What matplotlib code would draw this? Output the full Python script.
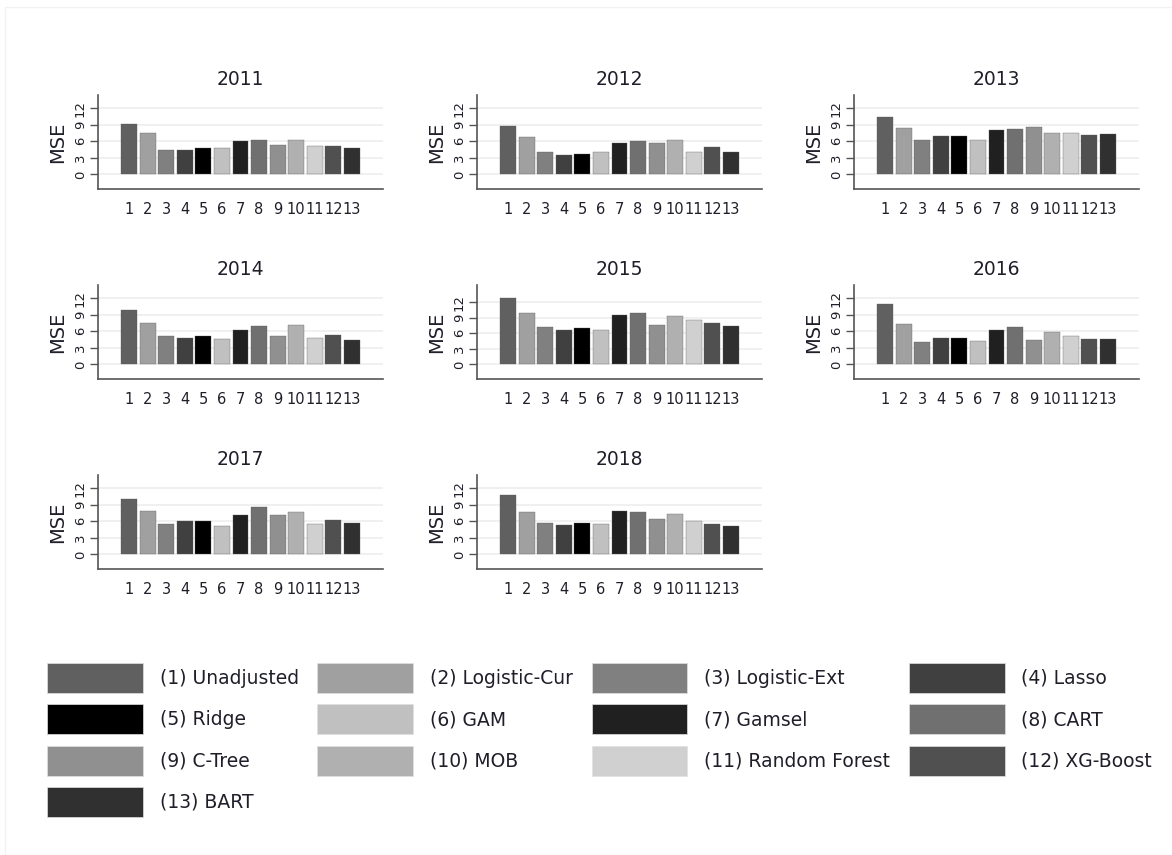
import numpy as np
import matplotlib.pyplot as plt
from matplotlib.patches import Patch

# MSE per method, one list per year (methods 1..13)
years = ["2011", "2012", "2013", "2014", "2015", "2016", "2017", "2018"]
mse_2011 = [9.1, 7.45, 4.5, 4.4, 4.8, 4.7, 6.0, 6.3, 5.4, 6.2, 5.1, 5.1, 4.7]
mse_2012 = [8.85, 6.85, 4.05, 3.5, 3.75, 4.0, 5.6, 6.0, 5.7, 6.25, 4.1, 5.0, 4.1]
mse_2013 = [10.4, 8.35, 6.25, 6.9, 6.9, 6.2, 8.1, 8.3, 8.55, 7.5, 7.5, 7.2, 7.3]
mse_2014 = [9.95, 7.5, 5.1, 4.8, 5.1, 4.6, 6.3, 6.9, 5.2, 7.2, 4.75, 5.3, 4.5]
mse_2015 = [12.75, 9.9, 7.2, 6.7, 7.0, 6.7, 9.5, 9.9, 7.65, 9.25, 8.55, 8.05, 7.4]
mse_2016 = [10.95, 7.25, 4.0, 4.85, 4.85, 4.2, 6.3, 6.7, 4.4, 5.8, 5.1, 4.55, 4.55]
mse_2017 = [10.05, 7.9, 5.5, 6.1, 6.0, 5.1, 7.05, 8.55, 7.05, 7.65, 5.5, 6.15, 5.7]
mse_2018 = [10.8, 7.65, 5.7, 5.3, 5.7, 5.5, 7.95, 7.65, 6.4, 7.3, 6.1, 5.55, 5.2]
mse_by_year = [mse_2011, mse_2012, mse_2013, mse_2014,
               mse_2015, mse_2016, mse_2017, mse_2018]

methods = ["Unadjusted", "Logistic-Cur", "Logistic-Ext", "Lasso", "Ridge", "GAM",
           "Gamsel", "CART", "C-Tree", "MOB", "Random Forest", "XG-Boost", "BART"]
grays = ["#606060", "#a0a0a0", "#808080", "#404040", "#000000", "#c0c0c0",
         "#202020", "#707070", "#909090", "#b0b0b0", "#d0d0d0", "#505050", "#303030"]

txt = "#1f1f2a"
plt.rcParams["font.family"] = ["DejaVu Sans"]

W, H = 1172, 855
fig = plt.figure(figsize=(W / 100, H / 100), dpi=100)
fig.patch.set_facecolor("white")

# faint outer frame
fig.patches.append(plt.Rectangle((5 / W, 0), 1, 1 - 7 / H, transform=fig.transFigure,
                                 fill=False, edgecolor="#f1f3f1", lw=1))

col_left = [98, 477, 854]
row_bottom = [189, 379, 569]
ax_w, ax_h = 285, 94

x = np.arange(1, 14)
for k, (yr, vals) in enumerate(zip(years, mse_by_year)):
    r, c = divmod(k, 3)
    ax = fig.add_axes([col_left[c] / W, 1 - row_bottom[r] / H, ax_w / W, ax_h / H])
    ax.bar(x, vals, width=0.86, color=grays, edgecolor="#5a5a5a", linewidth=0.25, zorder=3)

    top = max(12, max(vals))
    ax.set_ylim(-0.222 * top, 1.2 * top)
    ax.set_xlim(-0.67, 14.67)
    ax.set_yticks([0, 3, 6, 9, 12])
    ax.set_yticklabels(["0", "3", "6", "9", "12"], rotation=90, va="center",
                       fontsize=9.5, color=txt)
    ax.set_xticks(x)
    ax.set_xticklabels([str(i) for i in x], fontsize=10.5, color=txt)
    ax.tick_params(axis="x", length=0, pad=9)
    ax.tick_params(axis="y", length=6, width=1, color="#555555", pad=2)
    ax.grid(axis="y", color="#eeeeee", lw=1.2, zorder=0)
    for s in ("top", "right"):
        ax.spines[s].set_visible(False)
    for s in ("left", "bottom"):
        ax.spines[s].set_color("#555555")
        ax.spines[s].set_linewidth(1.2)
    ax.set_ylabel("MSE", fontsize=14, color=txt, labelpad=5)
    ax.set_title(yr, fontsize=13.5, color=txt, pad=7)

# legend laid out row by row: 1-4, 5-8, 9-12, 13
handles = [Patch(facecolor=g, edgecolor="#e0e0e0", lw=0.5) for g in grays]
labels = [f"({i + 1}) {m}" for i, m in enumerate(methods)]
order = [0, 4, 8, 12, 1, 5, 9, 2, 6, 10, 3, 7, 11]
fig.legend([handles[i] for i in order], [labels[i] for i in order],
           loc="upper left", bbox_to_anchor=(47 / W, 1 - 663 / H), ncol=4,
           frameon=False, fontsize=13.5, handlelength=5.1, handleheight=2.1,
           handletextpad=0.9, columnspacing=1.0, labelspacing=0.59,
           borderpad=0, borderaxespad=0, labelcolor=txt)

fig.savefig("out.png", dpi=100, facecolor="white")
